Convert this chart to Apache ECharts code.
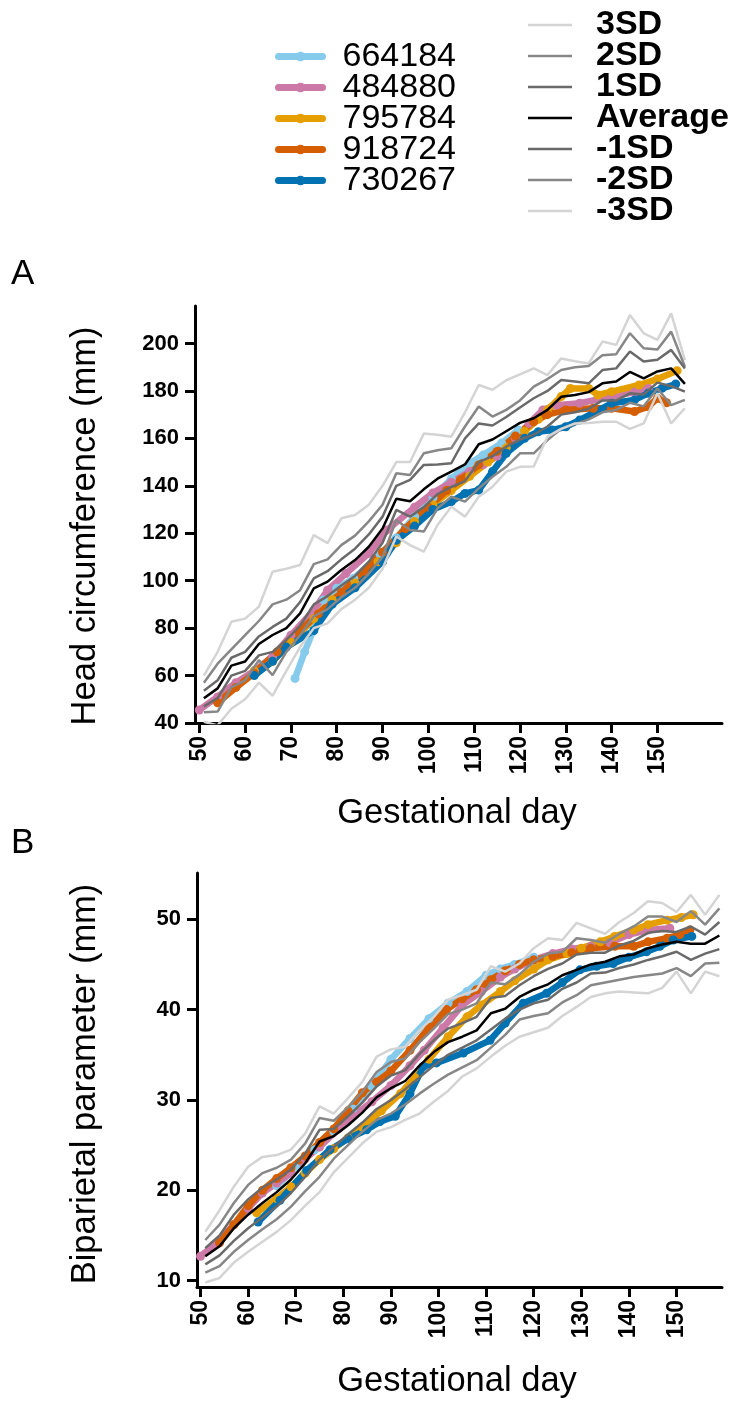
<!DOCTYPE html>
<html><head><meta charset="utf-8">
<script src="https://cdn.jsdelivr.net/npm/echarts@6/dist/echarts.min.js"></script>
<style>html,body{margin:0;padding:0;background:#fff}#c{width:737px;height:1404px}</style>
</head><body><div id="c"></div>
<script>
// ---------- tick labels ----------
const xTicks = [50,60,70,80,90,100,110,120,130,140,150];
const yTicksA = [40,60,80,100,120,140,160,180,200];
const yTicksB = [10,20,30,40,50];

// ---------- reference curves, panel A (head circumference) ----------
const daysA = [51,54,57,60,63,66,69,72,75,78,81,84,87,90,93,96,99,102,105,108,111,114,117,120,123,126,129,132,135,138,141,144,147,150,153,156];
const sd3A  = [60.0,70.0,82.7,84.0,89.0,103.8,105.0,106.6,119.2,115.8,126.3,127.7,132.0,140.0,150.0,150.0,162.0,161.5,160.7,171.0,182.5,180.5,184.5,187.0,189.5,186.7,193.7,192.5,191.6,200.8,199.4,212.0,204.3,201.5,212.7,193.0];
const sd2A  = [57.0,65.0,71.0,77.0,83.0,90.0,92.0,96.0,107.0,109.0,115.0,119.0,125.0,132.0,145.3,144.6,153.7,155.0,155.8,165.0,173.4,169.2,172.0,176.0,181.8,185.0,188.8,190.0,190.5,195.0,195.5,204.3,198.0,197.5,205.0,190.2];
const sd1A  = [53.6,58.0,67.5,70.0,76.5,80.5,84.0,91.0,101.0,104.0,109.0,113.5,119.5,127.0,140.0,142.5,148.8,149.0,149.5,160.0,166.3,165.4,169.0,173.0,176.9,180.0,184.6,184.0,183.2,188.8,189.5,196.6,192.4,193.1,197.3,189.5];
const avgA  = [50.4,54.6,64.2,65.9,73.3,77.1,80.0,86.2,96.8,99.6,104.5,108.7,114.3,122.0,134.5,133.5,138.5,143.0,146.0,149.0,157.5,159.5,163.0,166.5,168.5,172.0,177.5,178.3,179.5,183.2,184.0,188.0,185.3,188.2,189.5,183.0];
const nsd1A = [47.0,50.5,60.0,62.0,68.5,70.0,75.0,81.0,90.0,93.5,98.0,102.0,108.0,116.0,129.8,127.0,131.0,136.5,139.5,142.0,150.0,152.5,156.5,159.5,161.5,165.0,170.0,171.0,172.5,176.0,176.0,179.0,178.5,183.5,182.0,179.7];
const nsd2A = [44.5,44.8,55.0,58.0,66.5,60.2,70.0,77.0,85.0,88.0,93.0,97.0,103.0,110.0,125.6,121.4,120.7,130.5,135.4,133.3,138.9,143.8,148.0,153.7,153.7,159.3,164.0,166.0,168.0,171.0,172.0,175.0,173.5,181.0,174.0,176.2];
const nsd3A = [40.5,39.0,46.0,50.0,57.0,51.5,62.0,72.0,80.0,82.0,88.0,92.0,97.0,105.0,118.6,115.0,112.2,123.5,131.2,127.0,135.4,139.6,146.0,148.0,148.1,160.7,164.0,166.3,166.5,167.0,167.0,164.0,166.3,179.0,166.3,172.7];

// ---------- reference curves, panel B (biparietal) ----------
const daysB = [51,54,57,60,63,66,69,72,75,78,81,84,87,90,93,96,99,102,105,108,111,114,117,120,123,126,129,132,135,138,141,144,147,150,153,156,159];
const sd3B  = [15.4,17.8,20.4,22.6,23.7,23.9,24.5,26.3,29.3,28.5,30.2,32.0,34.8,35.6,35.9,37.7,39.2,41.1,41.6,42.2,44.8,44.2,45.1,46.8,47.9,47.7,49.6,49.0,48.4,49.7,50.7,52.0,51.8,50.8,52.7,50.5,52.7];
const sd2B  = [14.5,16.2,18.6,20.6,21.9,22.5,23.4,25.2,28.0,27.7,29.2,30.9,33.1,34.2,34.6,36.4,37.9,39.5,40.0,40.7,43.0,42.8,43.9,45.3,46.2,46.4,47.9,47.7,47.4,48.4,49.2,50.3,50.3,49.7,50.9,49.4,51.2];
const sd1B  = [13.6,15.0,17.3,19.0,20.3,21.2,22.3,24.1,26.7,26.8,28.2,29.7,31.5,32.7,33.3,35.1,36.6,37.9,38.5,39.2,41.3,41.5,42.7,43.7,44.5,45.1,46.1,46.3,46.3,47.1,47.6,48.5,48.7,48.6,49.2,48.3,49.7];
const avgB  = [12.7,13.8,15.8,17.3,18.6,19.8,21.2,23.0,25.4,26.0,27.2,28.6,30.3,31.3,32.1,33.8,35.3,36.4,37.0,37.7,39.6,40.1,41.4,42.2,42.8,43.8,44.4,45.0,45.3,45.9,46.1,46.8,47.2,47.5,47.3,47.3,48.2];
const nsd1B = [11.8,12.8,14.4,15.8,17.0,18.2,19.7,21.5,23.4,24.8,26.2,27.5,29.0,30.0,31.2,32.5,33.8,35.0,35.8,36.6,37.8,39.0,40.0,40.7,41.1,42.3,43.0,44.0,44.1,44.6,45.0,45.5,45.9,46.4,45.5,46.2,46.7];
const nsd2B = [10.9,11.6,13.2,14.5,15.7,16.8,18.2,19.9,21.5,23.5,25.0,26.5,27.8,28.5,29.5,30.7,31.8,32.8,33.6,34.4,35.8,37.2,38.9,39.3,39.6,40.8,41.6,42.7,43.0,43.3,43.6,43.8,44.0,44.6,43.7,45.1,45.2];
const nsd3B = [9.8,10.3,12.0,13.2,14.3,15.4,16.7,18.3,19.8,22.0,23.6,25.2,26.5,27.0,27.8,28.5,29.8,31.0,32.6,33.5,34.8,36.0,37.0,37.5,38.0,39.3,40.3,41.4,41.8,42.0,41.9,41.8,42.4,44.2,41.8,44.2,43.7];

// ---------- individual fetuses, panel A ----------
const p664184A_day = [70.9,73,74.9,77.1,80,83.7,89.5,93,97,101,105,109,112,116,119.6];
const p664184A_val = [58.8,70,79,91.9,96.8,101,111,118,127,135,143,149.5,153,158,163.5];
const p484880A_day = [50,54,58,62,66,70,75,78,82,87,91,97,101,105,109,112,115,119,122,125,128,133,140,145,148];
const p484880A_val = [45.5,51,57,62,68,77,87.6,96,103,111.5,121.4,131,137,141.5,146,149,152.5,160,166.3,172,174,174.8,177.6,179.5,181];
const p795784A_day = [62,66,70,75,79,84,89,93,97,101,105,109,113,117,121,124,126,129,131,135,137,140,146,150,154.3];
const p795784A_val = [62,66,74,84,92,99,108,116,125,132,138,144,150,156,163,168,172,177.6,181,181,178.3,179.7,182.5,185,188.5];
const p918724A_day = [54,58,62,67,72,76,81,86,90,95,100,104,107,111,115,119,123,126,130,136,140,145,148,150,152];
const p918724A_val = [48.5,55,61,70,79,86,95,104,112,122,131,138,142.5,148.8,154.5,161,167,170,172,172.7,172.7,171.3,173.4,176.9,175];
const p730267A_day = [62,66,69,75,79,84,90,93,97,101,105,108,111,114,117,121,124,127,130,133,140,145,148,151,154];
const p730267A_val = [60,66,72,79,90,97,108,117,123,130,133.3,136.8,138.2,146,153.7,160,162.8,163.5,164.9,167.7,174.8,176.2,179,181.1,182.9];

// ---------- individual fetuses, panel B ----------
const p664184B_day = [66,70,74,78,82,86,90,94,98,102,106,110,113,116,120];
const p664184B_val = [20.5,22.5,24.5,26.5,29,31.5,34.5,36.8,39,40.7,42,43.8,44.5,45,45.8];
const p484880B_day = [50,53,57,60,63,66,69,72,75,79,82,86,90,94,97,101,105,109,113,116,120,124,128,132,136,140,144,148.6];
const p484880B_val = [12.7,14,16.2,18,19.7,20.8,21.9,23.5,24.8,26.8,28.2,29.8,31.6,33.8,35.5,38,40.5,42,43.6,44.5,45.5,46.2,46.7,47,47.4,48.3,48.8,49];
const p795784B_day = [61.8,66,69,72,75,78,81,84,88,92,95,98,102,106,109,113,116,120,123,127,130,134,137,141,144,148,151,153.5];
const p795784B_val = [17.5,19.1,20.4,21.9,23.4,24.6,25.8,27,28.8,30.7,32.5,34.5,37,39.2,40.5,42,43.2,44.5,45.5,46.2,46.8,47.5,48.1,48.8,49.4,49.9,50.2,50.5];
const p918724B_day = [54,57,60,63,66,69,72,75,78,81,84,87,90,94,98,101.7,105,108,111,114,117,120,124,128,132,137,141,144,148,150.7,152.8];
const p918724B_val = [14.2,16.2,18.3,20,21.3,22.5,23.8,25.3,26.8,28.8,30.8,32,33.2,35.5,38,40,41.2,42.2,43.3,44.3,45,45.5,45.9,46.3,46.8,47,47,47.5,47.9,48.3,48.8];
const p730267B_day = [62.1,66.7,72.3,77.2,81,84.9,87.7,90.9,94,96.8,99.6,105.2,110.8,114,117.8,122.7,126,129.7,133.2,136.7,140,143.7,146.5,149.3,153.2];
const p730267B_val = [16.5,18.9,22.2,24.5,25.7,26.7,27.6,28.2,30.7,33.7,34.1,35.2,36.6,38.5,40.7,41.8,43,44.4,44.8,45.1,45.8,46.4,47,47.7,48.1];

const patientNames = ['664184','484880','795784','918724','730267'];
const refNames = ['3SD','2SD','1SD','Average','-1SD','-2SD','-3SD'];

// ---------- build ----------
const FONT = '"Liberation Sans", Arial, Helvetica, sans-serif';
const patientColors = ['#86cbec','#cc79a7','#e69f00','#d55e00','#0072b2'];
const refColors = ['#d4d4d4','#878787','#6a6a6a','#000000','#6a6a6a','#878787','#d4d4d4'];
const zip = (xs, ys) => xs.map((x, i) => [x, ys[i]]);

const patientsA = [[p664184A_day,p664184A_val],[p484880A_day,p484880A_val],[p795784A_day,p795784A_val],[p918724A_day,p918724A_val],[p730267A_day,p730267A_val]];
const patientsB = [[p664184B_day,p664184B_val],[p484880B_day,p484880B_val],[p795784B_day,p795784B_val],[p918724B_day,p918724B_val],[p730267B_day,p730267B_val]];
const refsA = [sd3A,sd2A,sd1A,avgA,nsd1A,nsd2A,nsd3A];
const refsB = [sd3B,sd2B,sd1B,avgB,nsd1B,nsd2B,nsd3B];

const series = [];
[[patientsA, refsA, daysA, 0], [patientsB, refsB, daysB, 1]].forEach(([pats, refs, days, gi]) => {
  pats.forEach((p, i) => series.push({
    name: patientNames[i], type: 'line', xAxisIndex: gi, yAxisIndex: gi,
    data: zip(p[0], p[1]), symbol: 'circle', symbolSize: 9, showSymbol: true,
    lineStyle: { width: 6.5, color: patientColors[i], cap: 'round', join: 'round' },
    itemStyle: { color: patientColors[i] }, z: 2, animation: false
  }));
  refs.forEach((r, i) => series.push({
    name: refNames[i], type: 'line', xAxisIndex: gi, yAxisIndex: gi,
    data: zip(days, r), symbol: 'none',
    lineStyle: { width: 2.5, color: refColors[i] },
    itemStyle: { color: refColors[i] }, z: 3, animation: false
  }));
});

function xAxis(gi, min, max) {
  return {
    type: 'value', gridIndex: gi, min: min, max: max,
    axisLine: { show: true, onZero: false, lineStyle: { color: '#000', width: 3 } },
    axisTick: { show: true, length: 10, lineStyle: { color: '#000', width: 3 }, customValues: xTicks },
    axisLabel: { customValues: xTicks, rotate: 90, fontSize: 23, fontWeight: 'bold', color: '#000', margin: 13, fontFamily: FONT },
    splitLine: { show: false }
  };
}
function yAxis(gi, min, max, ticks) {
  return {
    type: 'value', gridIndex: gi, min: min, max: max,
    axisLine: { show: true, onZero: false, lineStyle: { color: '#000', width: 3 } },
    axisTick: { show: true, length: 10, lineStyle: { color: '#000', width: 3 }, customValues: ticks },
    axisLabel: { customValues: ticks, fontSize: 22, fontWeight: 'bold', color: '#000', margin: 16, fontFamily: FONT },
    splitLine: { show: false }
  };
}

const legendText = { fontSize: 34, color: '#000', fontFamily: FONT, lineHeight: 31 };
const option = {
  backgroundColor: '#fff',
  animation: false,
  grid: [
    { left: 195, top: 306, right: 15, bottom: 681, containLabel: false },
    { left: 197, top: 873, right: 15, bottom: 117, containLabel: false }
  ],
  xAxis: [xAxis(0, 49.06, 164.1), xAxis(1, 49.26, 159.55)],
  yAxis: [yAxis(0, 40, 215.8, yTicksA), yAxis(1, 9.3, 55.12, yTicksB)],
  legend: [
    { data: patientNames, orient: 'vertical', left: 275, top: 39.5, padding: 0, itemWidth: 44, itemHeight: 12, itemGap: -3,
      selectedMode: false, lineStyle: { width: 7 },
      textStyle: Object.assign({}, legendText, { padding: [0, 0, 0, 15] }) },
    { data: refNames, orient: 'vertical', left: 528, top: 8, padding: 0, itemWidth: 44, itemHeight: 2.5, itemGap: -3,
      icon: 'rect', selectedMode: false,
      textStyle: Object.assign({}, legendText, { fontWeight: 'bold', padding: [0, 0, 0, 19] }) }
  ],
  graphic: [
    { type: 'text', left: 11, top: 257, style: { text: 'A', fill: '#000', font: '35px ' + FONT } },
    { type: 'text', left: 11, top: 826, style: { text: 'B', fill: '#000', font: '35px ' + FONT } },
    { type: 'text', x: 85, y: 526, rotation: Math.PI / 2,
      style: { text: 'Head circumference (mm)', font: '34.5px ' + FONT, fill: '#000', align: 'center', verticalAlign: 'middle', textAlign: 'center', textVerticalAlign: 'middle' } },
    { type: 'text', x: 457, y: 813,
      style: { text: 'Gestational day', font: '34.5px ' + FONT, fill: '#000', align: 'center', verticalAlign: 'middle', textAlign: 'center', textVerticalAlign: 'middle' } },
    { type: 'text', x: 85, y: 1084, rotation: Math.PI / 2,
      style: { text: 'Biparietal parameter (mm)', font: '34.5px ' + FONT, fill: '#000', align: 'center', verticalAlign: 'middle', textAlign: 'center', textVerticalAlign: 'middle' } },
    { type: 'text', x: 457, y: 1381,
      style: { text: 'Gestational day', font: '34.5px ' + FONT, fill: '#000', align: 'center', verticalAlign: 'middle', textAlign: 'center', textVerticalAlign: 'middle' } }
  ],
  series: series
};
const chart = echarts.init(document.getElementById('c'), null, { renderer: 'canvas' });
chart.setOption(option);
</script></body></html>
